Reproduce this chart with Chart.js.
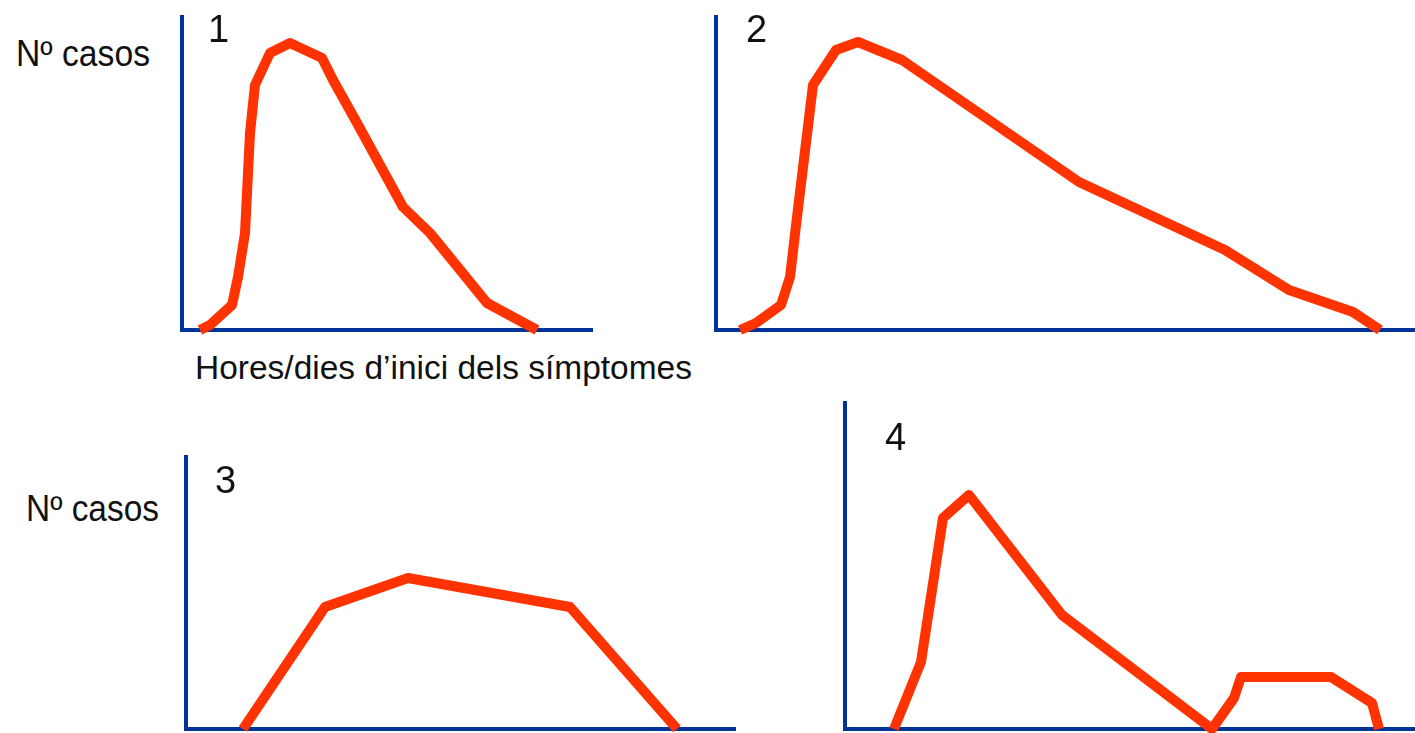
<!DOCTYPE html>
<html>
<head>
<meta charset="utf-8">
<script src="https://cdn.jsdelivr.net/npm/chart.js@4"></script>
<style>
  html, body { margin: 0; padding: 0; background: #fff; }
  body { width: 1415px; height: 733px; position: relative; overflow: hidden; font-family: "Liberation Sans", Arial, sans-serif; color: #111; }
  .cv { position: absolute; }
  .lbl { position: absolute; white-space: nowrap; line-height: 1; transform-origin: 0 0; }
</style>
</head>
<body>
<canvas id="c1" class="cv"></canvas>
<canvas id="c2" class="cv"></canvas>
<canvas id="c3" class="cv"></canvas>
<canvas id="c4" class="cv"></canvas>

<div class="lbl" id="yl1" style="left:16px; top:36px; font-size:36px;">Nº casos</div>
<div class="lbl" id="yl2" style="left:26px; top:491px; font-size:36px;">Nº casos</div>
<div class="lbl" id="xl1" style="left:195px; top:351px; font-size:33px;">Hores/dies d’inici dels símptomes</div>
<div class="lbl" id="n1" style="left:208px; top:10px; font-size:38px;">1</div>
<div class="lbl" id="n2" style="left:746px; top:10px; font-size:38px;">2</div>
<div class="lbl" id="n3" style="left:215px; top:461px; font-size:38px;">3</div>
<div class="lbl" id="n4" style="left:885px; top:418px; font-size:38px;">4</div>

<script>
// ---- Data (x: hores/dies, y: nº casos; arbitrary units) ----
const curve1X = [1.8, 2.8, 5.0, 5.6, 6.3, 6.8, 7.3, 8.8, 10.8, 14.0, 15.1, 17.5, 22.1, 24.8, 30.5, 35.5];
const curve1Y = [0, 0.5, 2.5, 5.3, 9.7, 19.7, 24.5, 27.7, 28.7, 27.2, 25.0, 20.7, 12.3, 9.7, 2.7, 0];

const curve2X = [2.4, 4.0, 6.5, 7.4, 8.1, 9.7, 12.0, 14.2, 18.6, 36.3, 50.9, 57.3, 63.7, 66.4];
const curve2Y = [0, 0.7, 2.5, 5.3, 11.3, 24.5, 28.0, 28.8, 27.0, 14.8, 8.0, 4.0, 1.8, 0];

const curve3X = [5.7, 13.9, 22.2, 38.4, 49.1];
const curve3Y = [0, 12.2, 15.1, 12.2, 0];

const curve4X = [4.9, 7.6, 9.8, 12.4, 21.7, 36.7, 38.9, 39.6, 48.6, 52.7, 53.4];
const curve4Y = [0, 6.7, 21.1, 23.4, 11.4, 0, 3.1, 5.2, 5.2, 2.6, 0];

// axis ranges per panel
const xMax = [41.0, 70.0, 54.9, 57.1];
const yMax = [31.3, 31.3, 27.2, 32.6];

// ---- Layout (plot areas in page pixels) ----
const areas = [
  { left: 182, top: 17,  right: 592,  bottom: 330 },
  { left: 716, top: 17,  right: 1416, bottom: 330 },
  { left: 186, top: 457, right: 735,  bottom: 729 },
  { left: 845, top: 403, right: 1416, bottom: 729 }
];
const PAD = 14;
const AXIS = '#003399';
const LINE = '#ff3300';

function pts(xs, ys) { return xs.map((x, i) => ({ x: x, y: ys[i] })); }
const series = [pts(curve1X, curve1Y), pts(curve2X, curve2Y), pts(curve3X, curve3Y), pts(curve4X, curve4Y)];

series.forEach((data, i) => {
  const a = areas[i];
  const cv = document.getElementById('c' + (i + 1));
  const w = a.right - a.left + 2 * PAD;
  const h = a.bottom - a.top + 2 * PAD;
  cv.style.left = (a.left - PAD) + 'px';
  cv.style.top = (a.top - PAD) + 'px';
  cv.style.width = w + 'px';
  cv.style.height = h + 'px';
  cv.width = w; cv.height = h;
  new Chart(cv, {
    type: 'line',
    data: {
      datasets: [{
        data: data,
        borderColor: LINE,
        borderWidth: 10,
        borderJoinStyle: 'round',
        borderCapStyle: 'butt',
        pointRadius: 0,
        tension: 0,
        fill: false,
        clip: false
      }]
    },
    options: {
      responsive: false,
      animation: false,
      events: [],
      layout: { padding: PAD },
      plugins: { legend: { display: false }, tooltip: { enabled: false }, title: { display: false } },
      scales: {
        x: {
          type: 'linear', min: 0, max: xMax[i],
          ticks: { display: false },
          grid: { display: false, drawTicks: false },
          border: { display: true, color: AXIS, width: 4 }
        },
        y: {
          type: 'linear', min: 0, max: yMax[i],
          ticks: { display: false },
          grid: { display: false, drawTicks: false },
          border: { display: true, color: AXIS, width: 4 }
        }
      }
    }
  });
});

// fit label widths horizontally to the reference
function fitW(id, target) {
  const el = document.getElementById(id);
  const w = el.getBoundingClientRect().width;
  el.style.transform = 'scaleX(' + (target / w) + ')';
}
fitW('yl1', 134);
fitW('yl2', 133);
fitW('xl1', 497);
</script>
</body>
</html>
